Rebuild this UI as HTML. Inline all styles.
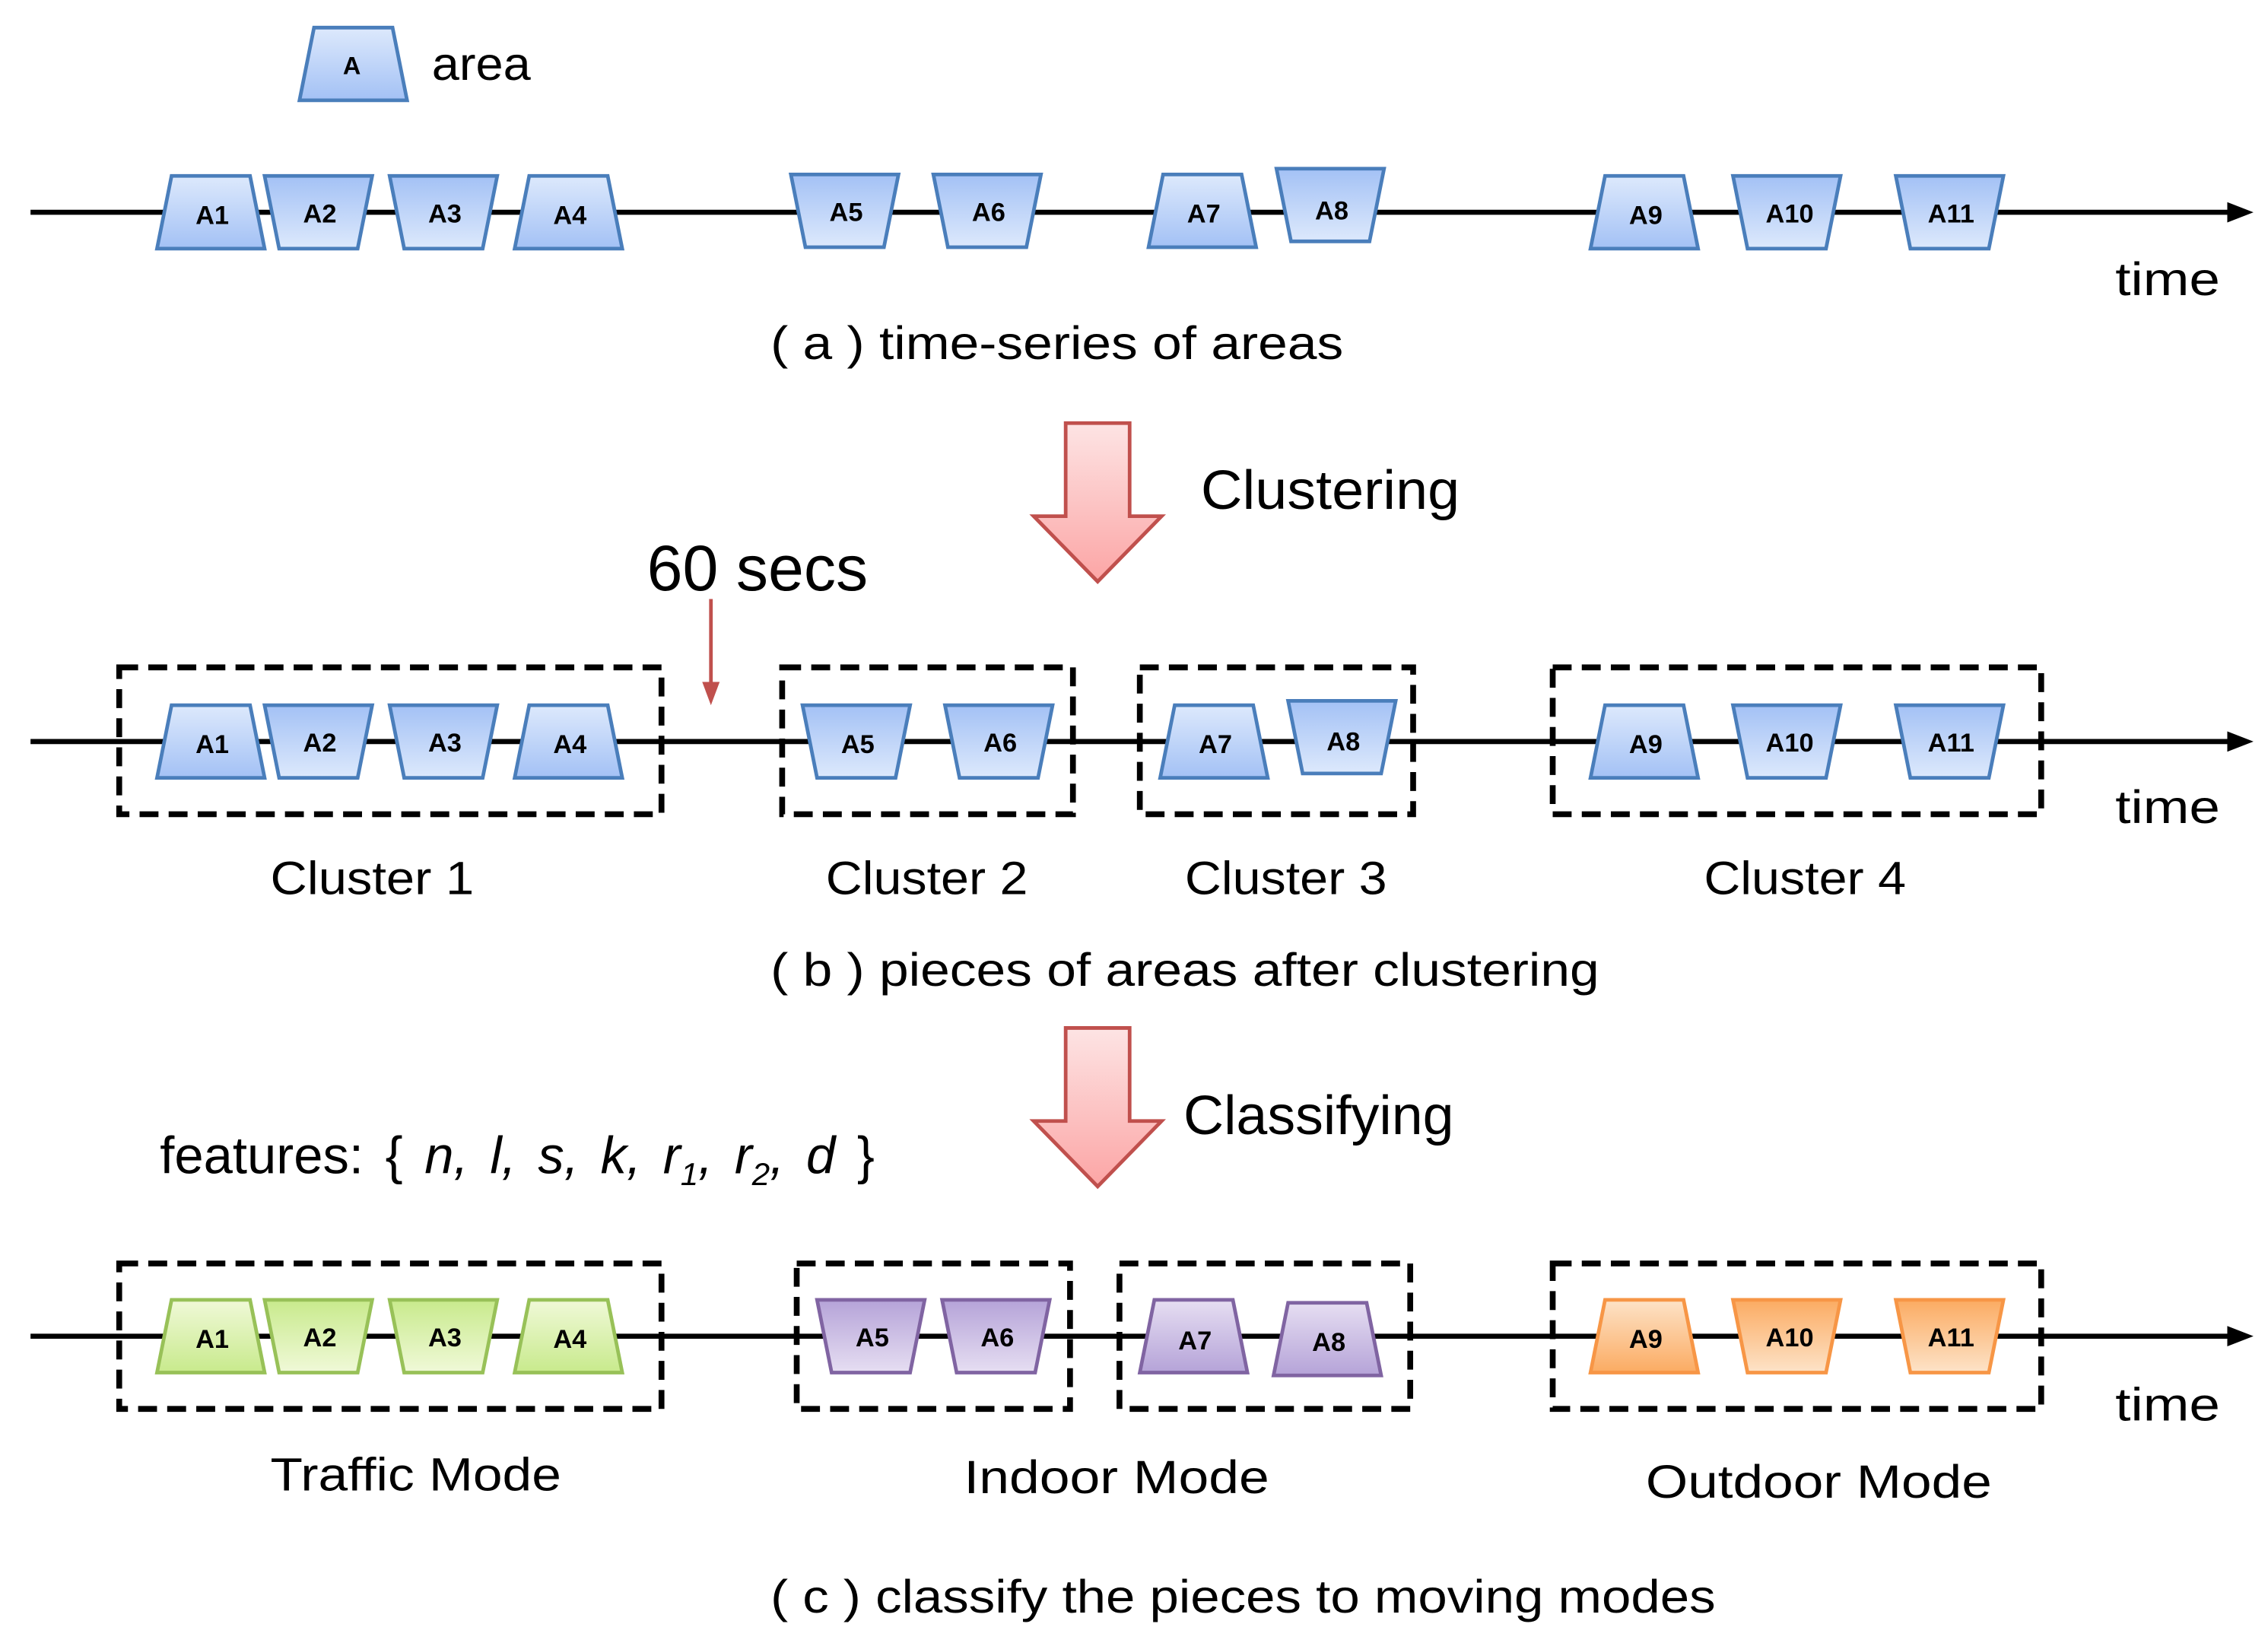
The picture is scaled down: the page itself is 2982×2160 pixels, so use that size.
<!DOCTYPE html>
<html><head><meta charset="utf-8"><style>html,body{margin:0;padding:0;background:#fff}svg{display:block}</style></head>
<body>
<svg width="2982" height="2160" viewBox="0 0 1560 1130" preserveAspectRatio="none" xmlns="http://www.w3.org/2000/svg" font-family="Liberation Sans, sans-serif">
<defs>
<linearGradient id="bu" x1="0" y1="0" x2="0" y2="1"><stop offset="0" stop-color="#dde9fc"/><stop offset="1" stop-color="#a3c1f5"/></linearGradient>
<linearGradient id="bd" x1="0" y1="1" x2="0" y2="0"><stop offset="0" stop-color="#dde9fc"/><stop offset="1" stop-color="#a3c1f5"/></linearGradient>
<linearGradient id="gu" x1="0" y1="0" x2="0" y2="1"><stop offset="0" stop-color="#f0f9d8"/><stop offset="1" stop-color="#c8ea8c"/></linearGradient>
<linearGradient id="gd" x1="0" y1="1" x2="0" y2="0"><stop offset="0" stop-color="#f0f9d8"/><stop offset="1" stop-color="#c8ea8c"/></linearGradient>
<linearGradient id="pu" x1="0" y1="0" x2="0" y2="1"><stop offset="0" stop-color="#e6def2"/><stop offset="1" stop-color="#b5a3d8"/></linearGradient>
<linearGradient id="pd" x1="0" y1="1" x2="0" y2="0"><stop offset="0" stop-color="#e6def2"/><stop offset="1" stop-color="#b5a3d8"/></linearGradient>
<linearGradient id="ou" x1="0" y1="0" x2="0" y2="1"><stop offset="0" stop-color="#fde3c8"/><stop offset="1" stop-color="#fbab62"/></linearGradient>
<linearGradient id="od" x1="0" y1="1" x2="0" y2="0"><stop offset="0" stop-color="#fde3c8"/><stop offset="1" stop-color="#fbab62"/></linearGradient>
<linearGradient id="ra" x1="0" y1="0" x2="0" y2="1"><stop offset="0" stop-color="#fde4e4"/><stop offset="1" stop-color="#fca5a5"/></linearGradient>
<polygon id="U" points="10,0 64,0 74,50 0,50"/>
<polygon id="D" points="0,0 74,0 64,50 10,50"/>
</defs>

<g stroke="#000" stroke-width="3.5" fill="#000">
<line x1="21" y1="146" x2="1535" y2="146"/><polygon points="1550,146 1532,139 1532,153" stroke="none"/>
<line x1="21" y1="510" x2="1535" y2="510"/><polygon points="1550,510 1532,503 1532,517" stroke="none"/>
<line x1="21" y1="919" x2="1535" y2="919"/><polygon points="1550,919 1532,912 1532,926" stroke="none"/>
</g>

<g stroke="#4a7ebb" stroke-width="2.5">
<use href="#U" x="206" y="19" fill="url(#bu)"/>
</g>
<text x="242" y="51" font-weight="bold" font-size="17" text-anchor="middle">A</text>
<text x="297" y="55" font-size="32" textLength="68" lengthAdjust="spacingAndGlyphs">area</text>

<g stroke="#4a7ebb" stroke-width="2.5">
<use href="#U" x="108" y="121" fill="url(#bu)"/>
<use href="#D" x="182" y="121" fill="url(#bd)"/>
<use href="#D" x="268" y="121" fill="url(#bd)"/>
<use href="#U" x="354" y="121" fill="url(#bu)"/>
<use href="#D" x="544" y="120" fill="url(#bd)"/>
<use href="#D" x="642" y="120" fill="url(#bd)"/>
<use href="#U" x="790" y="120" fill="url(#bu)"/>
<use href="#D" x="878" y="116" fill="url(#bd)"/>
<use href="#U" x="1094" y="121" fill="url(#bu)"/>
<use href="#D" x="1192" y="121" fill="url(#bd)"/>
<use href="#D" x="1304" y="121" fill="url(#bd)"/>
</g>
<g font-weight="bold" font-size="18" text-anchor="middle">
<text x="146" y="154">A1</text><text x="220" y="153">A2</text><text x="306" y="153">A3</text><text x="392" y="154">A4</text>
<text x="582" y="152">A5</text><text x="680" y="152">A6</text><text x="828" y="153">A7</text><text x="916" y="151">A8</text>
<text x="1132" y="154">A9</text><text x="1231" y="153">A10</text><text x="1342" y="153">A11</text>
</g>
<text x="1455" y="203" font-size="32" textLength="72" lengthAdjust="spacingAndGlyphs">time</text>
<text x="530" y="247" font-size="32" textLength="394" lengthAdjust="spacingAndGlyphs">( a )  time-series of areas</text>

<polygon points="733,291 777,291 777,355 799,355 755,400 711,355 733,355" fill="url(#ra)" stroke="#c0504d" stroke-width="2.5"/>
<text x="826" y="350" font-size="38" textLength="178" lengthAdjust="spacingAndGlyphs">Clustering</text>
<text x="445" y="406" font-size="44" textLength="152" lengthAdjust="spacingAndGlyphs">60 secs</text>
<line x1="489" y1="412" x2="489" y2="474" stroke="#c0504d" stroke-width="2.5"/>
<polygon points="489,485 483,469 495,469" fill="#c0504d"/>

<g fill="none" stroke="#000" stroke-width="4" stroke-dasharray="13,7">
<rect x="82" y="459" width="373" height="101"/>
<rect x="538" y="459" width="200" height="101"/>
<rect x="784" y="459" width="188" height="101"/>
<rect x="1068" y="459" width="336" height="101"/>
</g>
<g stroke="#4a7ebb" stroke-width="2.5">
<use href="#U" x="108" y="485" fill="url(#bu)"/>
<use href="#D" x="182" y="485" fill="url(#bd)"/>
<use href="#D" x="268" y="485" fill="url(#bd)"/>
<use href="#U" x="354" y="485" fill="url(#bu)"/>
<use href="#D" x="552" y="485" fill="url(#bd)"/>
<use href="#D" x="650" y="485" fill="url(#bd)"/>
<use href="#U" x="798" y="485" fill="url(#bu)"/>
<use href="#D" x="886" y="482" fill="url(#bd)"/>
<use href="#U" x="1094" y="485" fill="url(#bu)"/>
<use href="#D" x="1192" y="485" fill="url(#bd)"/>
<use href="#D" x="1304" y="485" fill="url(#bd)"/>
</g>
<g font-weight="bold" font-size="18" text-anchor="middle">
<text x="146" y="518">A1</text><text x="220" y="517">A2</text><text x="306" y="517">A3</text><text x="392" y="518">A4</text>
<text x="590" y="518">A5</text><text x="688" y="517">A6</text><text x="836" y="518">A7</text><text x="924" y="516">A8</text>
<text x="1132" y="518">A9</text><text x="1231" y="517">A10</text><text x="1342" y="517">A11</text>
</g>
<text x="1455" y="566" font-size="32" textLength="72" lengthAdjust="spacingAndGlyphs">time</text>
<g font-size="32">
<text x="186" y="615" textLength="140" lengthAdjust="spacingAndGlyphs">Cluster 1</text>
<text x="568" y="615" textLength="139" lengthAdjust="spacingAndGlyphs">Cluster 2</text>
<text x="815" y="615" textLength="139" lengthAdjust="spacingAndGlyphs">Cluster 3</text>
<text x="1172" y="615" textLength="139" lengthAdjust="spacingAndGlyphs">Cluster 4</text>
</g>
<text x="530" y="678" font-size="32" textLength="570" lengthAdjust="spacingAndGlyphs">( b )  pieces of areas after clustering</text>

<polygon points="733,707 777,707 777,771 799,771 755,816 711,771 733,771" fill="url(#ra)" stroke="#c0504d" stroke-width="2.5"/>
<text x="814" y="780" font-size="38" textLength="186" lengthAdjust="spacingAndGlyphs">Classifying</text>
<text x="110" y="807" font-size="36" word-spacing="5">features: { <tspan font-style="italic">n, l, s, k, r</tspan><tspan font-style="italic" font-size="22" dy="8">1</tspan><tspan font-style="italic" dy="-8">, r</tspan><tspan font-style="italic" font-size="22" dy="8">2</tspan><tspan font-style="italic" dy="-8">, d</tspan> }</text>

<g fill="none" stroke="#000" stroke-width="4" stroke-dasharray="13,7">
<rect x="82" y="869" width="373" height="100"/>
<rect x="548" y="869" width="188" height="100"/>
<rect x="770" y="869" width="200" height="100"/>
<rect x="1068" y="869" width="336" height="100"/>
</g>
<g stroke-width="2.5">
<use href="#U" x="108" y="894" fill="url(#gu)" stroke="#98c158"/>
<use href="#D" x="182" y="894" fill="url(#gd)" stroke="#98c158"/>
<use href="#D" x="268" y="894" fill="url(#gd)" stroke="#98c158"/>
<use href="#U" x="354" y="894" fill="url(#gu)" stroke="#98c158"/>
<use href="#D" x="562" y="894" fill="url(#pd)" stroke="#8064a2"/>
<use href="#D" x="648" y="894" fill="url(#pd)" stroke="#8064a2"/>
<use href="#U" x="784" y="894" fill="url(#pu)" stroke="#8064a2"/>
<use href="#U" x="876" y="896" fill="url(#pu)" stroke="#8064a2"/>
<use href="#U" x="1094" y="894" fill="url(#ou)" stroke="#f79646"/>
<use href="#D" x="1192" y="894" fill="url(#od)" stroke="#f79646"/>
<use href="#D" x="1304" y="894" fill="url(#od)" stroke="#f79646"/>
</g>
<g font-weight="bold" font-size="18" text-anchor="middle">
<text x="146" y="927">A1</text><text x="220" y="926">A2</text><text x="306" y="926">A3</text><text x="392" y="927">A4</text>
<text x="600" y="926">A5</text><text x="686" y="926">A6</text><text x="822" y="928">A7</text><text x="914" y="929">A8</text>
<text x="1132" y="927">A9</text><text x="1231" y="926">A10</text><text x="1342" y="926">A11</text>
</g>
<text x="1455" y="977" font-size="32" textLength="72" lengthAdjust="spacingAndGlyphs">time</text>
<g font-size="32">
<text x="186" y="1025" textLength="200" lengthAdjust="spacingAndGlyphs">Traffic Mode</text>
<text x="663" y="1027" textLength="210" lengthAdjust="spacingAndGlyphs">Indoor Mode</text>
<text x="1132" y="1030" textLength="238" lengthAdjust="spacingAndGlyphs">Outdoor Mode</text>
</g>
<text x="530" y="1109" font-size="32" textLength="650" lengthAdjust="spacingAndGlyphs">( c )  classify the pieces to moving modes</text>
</svg>
</body></html>
